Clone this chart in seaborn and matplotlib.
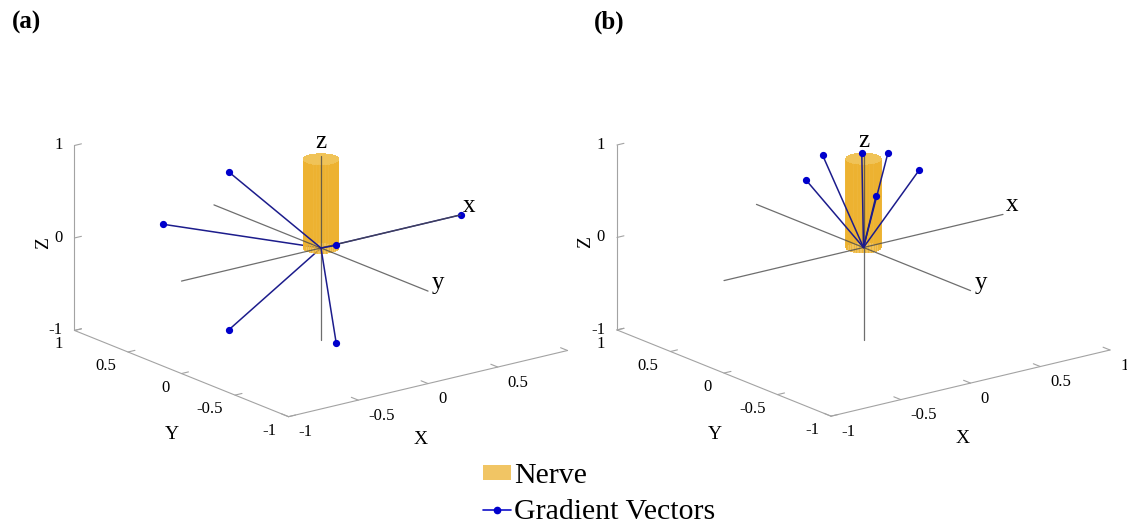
import numpy as np
import matplotlib
matplotlib.use("Agg")
import matplotlib.pyplot as plt
import seaborn as sns
from matplotlib.patches import Patch
from matplotlib.lines import Line2D
from mpl_toolkits.mplot3d import proj3d

# ---------------------------------------------------------------- data
# gradient directions (unit vectors) for panel (a)
grad_a_x = [1.000, -0.447, -0.447, -0.447, -0.447, -0.447]
grad_a_y = [0.000, 0.894, 0.276, 0.276, -0.724, -0.724]
grad_a_z = [0.000, 0.000, 0.851, -0.851, 0.526, -0.526]

# gradient directions (unit vectors) for panel (b)
grad_b_x = [-0.158, 0.017, 0.147, 0.148, -0.435, -0.257]
grad_b_y = [0.176, 0.038, -0.037, -0.326, -0.029, -0.451]
grad_b_z = [0.972, 0.999, 0.988, 0.934, 0.900, 0.855]

# nerve cylinder
nerve_radius = 0.1
nerve_z = [0.0, 0.96]

xy_tick_values = [-1, -0.5, 0, 0.5, 1]
xy_tick_labels = ["-1", "-0.5", "0", "0.5", "1"]
z_tick_values = [-1, 0, 1]
z_tick_labels = ["-1", "0", "1"]
x_tick_values_a = [-1, -0.5, 0, 0.5]
panel_labels = ["(a)", "(b)"]
frame_labels = ["x", "y", "z"]
legend_labels = ["Nerve", "Gradient Vectors"]

# ---------------------------------------------------------------- style
sns.set_theme(style="white")
plt.rcParams["font.family"] = ["Liberation Serif", "DejaVu Serif"]
plt.rcParams["text.color"] = "black"

W, H, DPI = 1127, 525, 100
ELEV, AZIM = 18, -127.5
BOX = (1.0, 1.0, 0.553)
UNIT_PX = 139.5                      # screen width of one x unit
ORIGINS = [(321.0, 248.0), (863.5, 247.5)]   # pixel position of (0,0,0), y measured down

AXIS_GRAY = "#a3a3a3"
FRAME_GRAY = "#4a4a4a"
NERVE = "#EDB230"
NERVE_TOP = "#F1C458"
VEC_LINE = "#1c1c8c"
VEC_DOT = "#0000cc"

fig = plt.figure(figsize=(W / DPI, H / DPI), dpi=DPI)
fig.patch.set_facecolor("white")

ax_a = fig.add_axes([0.0, 0.0, 0.5, 1.0], projection="3d", computed_zorder=False)
ax_b = fig.add_axes([0.5, 0.0, 0.5, 1.0], projection="3d", computed_zorder=False)
axes = [ax_a, ax_b]

view_dir = np.array([
    BOX[0] * np.cos(np.radians(AZIM)) * np.cos(np.radians(ELEV)),
    BOX[1] * np.sin(np.radians(AZIM)) * np.cos(np.radians(ELEV)),
    BOX[2] * np.sin(np.radians(ELEV)),
])


def setup(ax):
    ax.set_proj_type("ortho")
    ax.view_init(elev=ELEV, azim=AZIM)
    ax.set_xlim(-1, 1)
    ax.set_ylim(-1, 1)
    ax.set_zlim(-1, 1)
    ax.set_box_aspect(BOX)
    ax.set_axis_off()
    ax.set_facecolor("none")
    ax.patch.set_visible(False)


def draw_panel(ax, gx, gy, gz):
    setup(ax)
    lo, hi = xy_tick_values[0], xy_tick_values[-1]
    akw = dict(color=AXIS_GRAY, lw=0.8, clip_on=False, zorder=1)
    # box axes (box off)
    ax.plot([lo, hi], [lo, lo], [lo, lo], **akw)
    ax.plot([lo, lo], [lo, hi], [lo, lo], **akw)
    ax.plot([lo, lo], [hi, hi], [lo, hi], **akw)
    tl = 0.05
    for v in xy_tick_values:
        ax.plot([v, v], [lo, lo + tl * 1.3], [lo, lo], **akw)
        ax.plot([lo, lo + tl], [v, v], [lo, lo], **akw)
    for v in z_tick_values:
        ax.plot([lo, lo + tl], [hi, hi], [v, v], **akw)

    # nerve cylinder
    th = np.linspace(0, 2 * np.pi, 73)
    TH, ZZ = np.meshgrid(th, np.array(nerve_z))
    side = ax.plot_surface(nerve_radius * np.cos(TH), nerve_radius * np.sin(TH), ZZ,
                           color=NERVE, alpha=0.78, shade=False, linewidth=0,
                           antialiased=False, zorder=2)
    RR, TH2 = np.meshgrid(np.array([0.0, nerve_radius]), th)
    top = ax.plot_surface(RR * np.cos(TH2), RR * np.sin(TH2),
                          np.full_like(RR, nerve_z[1]), color=NERVE_TOP, alpha=0.85,
                          shade=False, linewidth=0, antialiased=False, zorder=2.5)
    side.set_clip_on(False)
    top.set_clip_on(False)

    # local frame through the origin
    fkw = dict(color=FRAME_GRAY, lw=0.9, alpha=0.8, clip_on=False, zorder=3)
    ax.plot([lo, hi], [0, 0], [0, 0], **fkw)
    ax.plot([0, 0], [lo, hi], [0, 0], **fkw)
    ax.plot([0, 0], [0, 0], [lo, hi], **fkw)

    # gradient vectors
    for x, y, z in zip(gx, gy, gz):
        depth = np.dot(view_dir, [x, y, z])
        zo = 4 if depth > 0 else 1.5
        ax.plot([0, x], [0, y], [0, z], color=VEC_LINE, lw=1.1, marker="o",
                markevery=[1], ms=4.2, mfc=VEC_DOT, mec=VEC_DOT,
                clip_on=False, zorder=zo)


draw_panel(ax_a, grad_a_x, grad_a_y, grad_a_z)
draw_panel(ax_b, grad_b_x, grad_b_y, grad_b_z)


def to_px(ax, x, y, z):
    xs, ys, _ = proj3d.proj_transform(x, y, z, ax.get_proj())
    return ax.transData.transform((xs, ys))


# scale and place each 3-D view
fig.canvas.draw()
for ax in axes:
    p0 = to_px(ax, 0, 0, 0)
    p1 = to_px(ax, 1, 0, 0)
    ax.set_box_aspect(BOX, zoom=UNIT_PX / (p1[0] - p0[0]))
fig.canvas.draw()
for ax, (ox, oy) in zip(axes, ORIGINS):
    p0 = to_px(ax, 0, 0, 0)
    pos = ax.get_position(original=True)
    ax.set_position([pos.x0 + (ox - p0[0]) / W, pos.y0 + ((H - oy) - p0[1]) / H,
                     pos.width, pos.height])
fig.canvas.draw()


def label_at(ax, xyz, text, dx, ddown, **kw):
    px, py = to_px(ax, *xyz)
    fig.text((px + dx) / W, (py - ddown) / H, text, **kw)


TICK_FS, TITLE_FS, FRAME_FS = 12, 14, 18
for ax, xt in zip(axes, [x_tick_values_a, xy_tick_values]):
    lo, hi = xy_tick_values[0], xy_tick_values[-1]
    for v, s in zip(xy_tick_values, xy_tick_labels):
        if v in xt:
            label_at(ax, (v, lo, lo), s, 10, 15.5, ha="left", va="center", fontsize=TICK_FS)
        label_at(ax, (lo, v, lo), s, -12, 14, ha="right", va="center", fontsize=TICK_FS)
    for v, s in zip(z_tick_values, z_tick_labels):
        label_at(ax, (lo, hi, v), s, -12, 0, ha="right", va="center", fontsize=TICK_FS)
    label_at(ax, (0, lo, lo), "X", -7.5, 55.5, ha="center", va="center", fontsize=TITLE_FS)
    label_at(ax, (lo, 0, lo), "Y", -9.5, 61, ha="center", va="center", fontsize=TITLE_FS)
    label_at(ax, (lo, hi, 0), "Z", -31, 5, ha="center", va="center", fontsize=TITLE_FS,
             rotation=90)
    # local frame letters
    label_at(ax, (hi, 0, 0), frame_labels[0], 9, -9, ha="center", va="center", fontsize=FRAME_FS)
    label_at(ax, (0, lo, 0), frame_labels[1], 10, -8, ha="center", va="center", fontsize=FRAME_FS)
    label_at(ax, (0, 0, hi), frame_labels[2], 0, -14, ha="center", va="center", fontsize=FRAME_FS)

# panel letters
fig.text(26.5 / W, 1 - 22 / H, panel_labels[0], ha="center", va="center",
         fontsize=18, fontweight="bold")
fig.text(609.5 / W, 1 - 22 / H, panel_labels[1], ha="center", va="center",
         fontsize=18, fontweight="bold")

# legend
handles = [
    Patch(facecolor=NERVE, alpha=0.75, edgecolor="none"),
    Line2D([], [], color="#1010c8", lw=1.2, marker="o", ms=4.5, mfc=VEC_DOT, mec=VEC_DOT),
]
fig.legend(handles, legend_labels, loc="upper left",
           bbox_to_anchor=(483 / W, 1 - 463 / H), frameon=False, fontsize=21.5,
           handlelength=0.95, handleheight=0.38, handletextpad=0.1,
           labelspacing=0.32, borderpad=0, borderaxespad=0)

fig.savefig("out.png", dpi=DPI, facecolor="white")
